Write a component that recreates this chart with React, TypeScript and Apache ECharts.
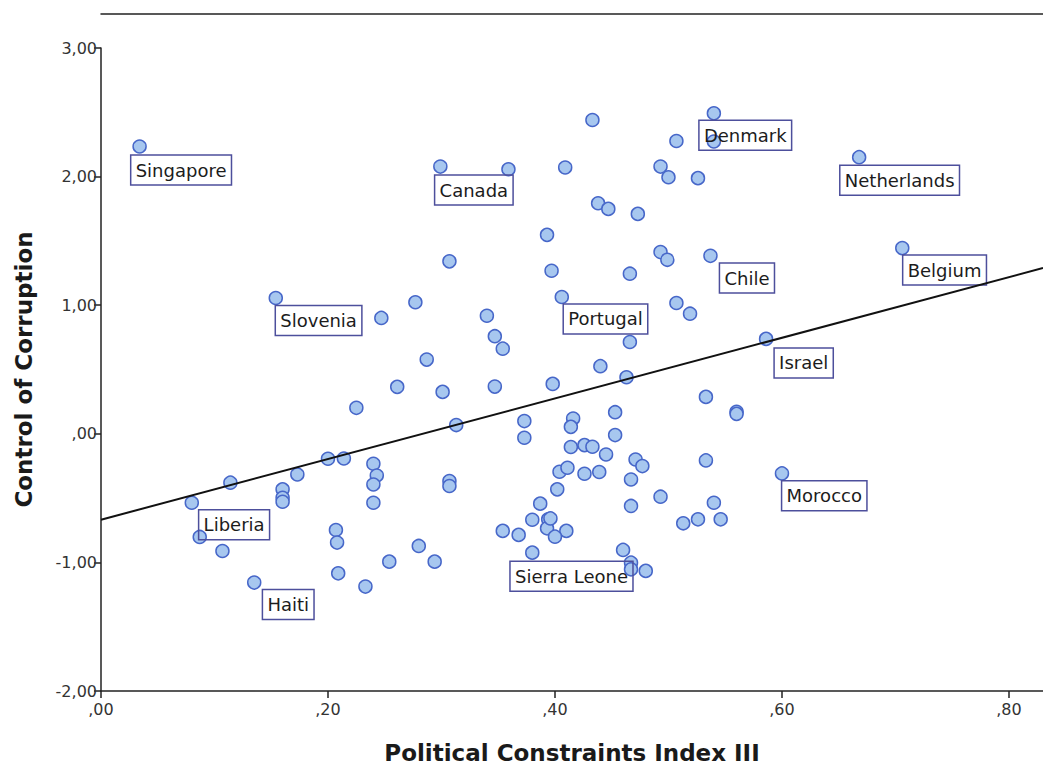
import React, { useEffect, useRef } from "react";
import * as echarts from "echarts";

// Political Constraints Index III (x) and Control of Corruption (y), one entry per country
const POLCON: number[] = [
  0.034, 0.299, 0.359, 0.393, 0.307, 0.397, 0.154, 0.277, 0.247, 0.340,
  0.347, 0.354, 0.287, 0.261, 0.301, 0.347, 0.398, 0.433, 0.540, 0.507,
  0.540, 0.668, 0.409, 0.493, 0.500, 0.526, 0.438, 0.447, 0.473, 0.493,
  0.499, 0.537, 0.706, 0.466, 0.406, 0.507, 0.519, 0.586, 0.466, 0.440,
  0.463, 0.533, 0.225, 0.313, 0.373, 0.373, 0.200, 0.214, 0.240, 0.243,
  0.240, 0.240, 0.173, 0.114, 0.160, 0.160, 0.160, 0.307, 0.307, 0.080,
  0.087, 0.107, 0.207, 0.208, 0.280, 0.254, 0.294, 0.209, 0.233, 0.135,
  0.387, 0.380, 0.394, 0.393, 0.354, 0.368, 0.380, 0.560, 0.560, 0.453,
  0.416, 0.414, 0.453, 0.414, 0.426, 0.433, 0.445, 0.471, 0.477, 0.533,
  0.600, 0.404, 0.411, 0.426, 0.439, 0.467, 0.402, 0.493, 0.467, 0.540,
  0.396, 0.410, 0.400, 0.513, 0.526, 0.546, 0.460, 0.467, 0.467, 0.480,
];
const CORRUPTION: number[] = [
  2.234, 2.078, 2.057, 1.547, 1.341, 1.268, 1.056, 1.023, 0.901, 0.918,
  0.759, 0.662, 0.577, 0.365, 0.326, 0.367, 0.388, 2.440, 2.492, 2.277,
  2.273, 2.151, 2.071, 2.078, 1.995, 1.988, 1.793, 1.749, 1.710, 1.413,
  1.353, 1.384, 1.444, 1.245, 1.064, 1.017, 0.934, 0.738, 0.714, 0.526,
  0.440, 0.287, 0.202, 0.068, 0.099, -0.031, -0.194, -0.192, -0.233, -0.324,
  -0.394, -0.536, -0.316, -0.380, -0.432, -0.497, -0.528, -0.367, -0.406, -0.536,
  -0.802, -0.911, -0.748, -0.846, -0.872, -0.994, -0.994, -1.085, -1.188, -1.157,
  -0.543, -0.668, -0.665, -0.735, -0.755, -0.786, -0.924, 0.171, 0.155, 0.168,
  0.119, 0.054, -0.010, -0.103, -0.088, -0.101, -0.161, -0.200, -0.251, -0.207,
  -0.308, -0.295, -0.264, -0.311, -0.297, -0.355, -0.432, -0.489, -0.561, -0.536,
  -0.658, -0.755, -0.800, -0.696, -0.665, -0.665, -0.903, -1.002, -1.054, -1.066,
];
const COUNTRY: string[] = [
  "Singapore", "Canada", "", "", "", "", "Slovenia", "", "", "",
  "", "", "", "", "", "", "", "", "Denmark", "",
  "", "Netherlands", "", "", "", "", "", "", "", "",
  "", "Chile", "Belgium", "", "Portugal", "", "", "Israel", "", "",
  "", "", "", "", "", "", "", "", "", "",
  "", "", "", "", "", "", "", "", "", "Liberia",
  "", "", "", "", "", "", "", "", "", "Haiti",
  "", "", "", "", "", "", "Sierra Leone", "", "", "",
  "", "", "", "", "", "", "", "", "", "",
  "Morocco", "", "", "", "", "", "", "", "", "",
  "", "", "", "", "", "", "", "", "", "",
];

// Linear fit line endpoints
const FIT_X: number[] = [0, 0.83];
const FIT_Y: number[] = [-0.668, 1.289];

const X_TITLE = "Political Constraints Index III";
const Y_TITLE = "Control of Corruption";

// Label box placement (center offset from the point, in px) — styling only
const LABEL_OFFSET: Record<string, [number, number]> = {
  Singapore: [41.5, 23.5],
  Canada: [33.5, 23.5],
  Denmark: [31.4, 22],
  Netherlands: [40.5, 23],
  Belgium: [42.3, 22],
  Chile: [36.5, 22.3],
  Portugal: [43.7, 22],
  Slovenia: [42.8, 22.5],
  Israel: [37.6, 24],
  Morocco: [42.3, 22.3],
  Liberia: [42.3, 22],
  Haiti: [34, 22],
  "Sierra Leone": [39.2, 23.5],
};

const FONT = "'DejaVu Sans', Verdana, sans-serif";

function fmt(v: number): string {
  const s = Math.abs(v).toFixed(2).replace(".", ",");
  const t = s.startsWith("0,") ? s.slice(1) : s;
  return (v < -1e-9 ? "-" : "") + t;
}

export default function App() {
  const ref = useRef<HTMLDivElement>(null);
  useEffect(() => {
    if (!ref.current) return;
    const chart = echarts.init(ref.current, undefined, { renderer: "svg" });

    const points = POLCON.map((x, i) => {
      const name = COUNTRY[i];
      const item: any = { value: [x, CORRUPTION[i]], name };
      if (name) {
        item.label = {
          show: true,
          position: "inside",
          offset: LABEL_OFFSET[name] || [40, 22],
          formatter: name,
          color: "#1c1c1c",
          fontFamily: FONT,
          fontSize: 18,
          lineHeight: 21,
          borderColor: "#4d4f9c",
          borderWidth: 1.5,
          padding: [5, 5, 4, 5],
          align: "center",
          verticalAlign: "middle",
        };
      }
      return item;
    });

    chart.setOption({
      animation: false,
      backgroundColor: "#ffffff",
      grid: { left: 101, top: 48, bottom: 77, right: 0, containLabel: false },
      xAxis: [
        {
          type: "value",
          min: 0,
          max: 0.83,
          interval: 0.2,
          name: X_TITLE,
          nameLocation: "middle",
          nameGap: 50,
          nameTextStyle: { fontFamily: FONT, fontSize: 23, fontWeight: "bold", color: "#1a1a1a" },
          axisLine: { show: true, onZero: false, lineStyle: { color: "#222", width: 1.5 } },
          axisTick: { show: true, length: 7, lineStyle: { color: "#222", width: 1.5 } },
          axisLabel: {
            formatter: fmt,
            showMaxLabel: false,
            margin: 10,
            fontFamily: FONT,
            fontSize: 16,
            color: "#333",
          },
          splitLine: { show: false },
        },
        {
          type: "value",
          position: "top",
          offset: 34,
          min: 0,
          max: 0.83,
          axisLine: { show: true, onZero: false, lineStyle: { color: "#222", width: 1.5 } },
          axisTick: { show: false },
          axisLabel: { show: false },
          splitLine: { show: false },
        },
      ],
      yAxis: {
        type: "value",
        min: -2,
        max: 3,
        interval: 1,
        name: Y_TITLE,
        nameLocation: "middle",
        nameGap: 66,
        nameTextStyle: { fontFamily: FONT, fontSize: 23, fontWeight: "bold", color: "#1a1a1a" },
        axisLine: { show: true, onZero: false, lineStyle: { color: "#222", width: 1.5 } },
        axisTick: { show: true, length: 7, lineStyle: { color: "#222", width: 1.5 } },
        axisLabel: { formatter: fmt, margin: 4, fontFamily: FONT, fontSize: 16, color: "#333" },
        splitLine: { show: false },
      },
      series: [
        {
          type: "scatter",
          xAxisIndex: 0,
          data: points,
          symbol: "circle",
          symbolSize: 13,
          itemStyle: { color: "#a7c7ef", borderColor: "#4767c9", borderWidth: 1.5, opacity: 1 },
          z: 3,
        },
        {
          type: "line",
          xAxisIndex: 0,
          data: FIT_X.map((x, i) => [x, FIT_Y[i]]),
          symbol: "none",
          lineStyle: { color: "#111", width: 2 },
          z: 4,
          silent: true,
        },
      ],
    });
    return () => chart.dispose();
  }, []);
  return (
    <div
      ref={ref}
      style={{ position: "fixed", left: 0, top: 0, width: 1043, height: 769, background: "#fff" }}
    />
  );
}
